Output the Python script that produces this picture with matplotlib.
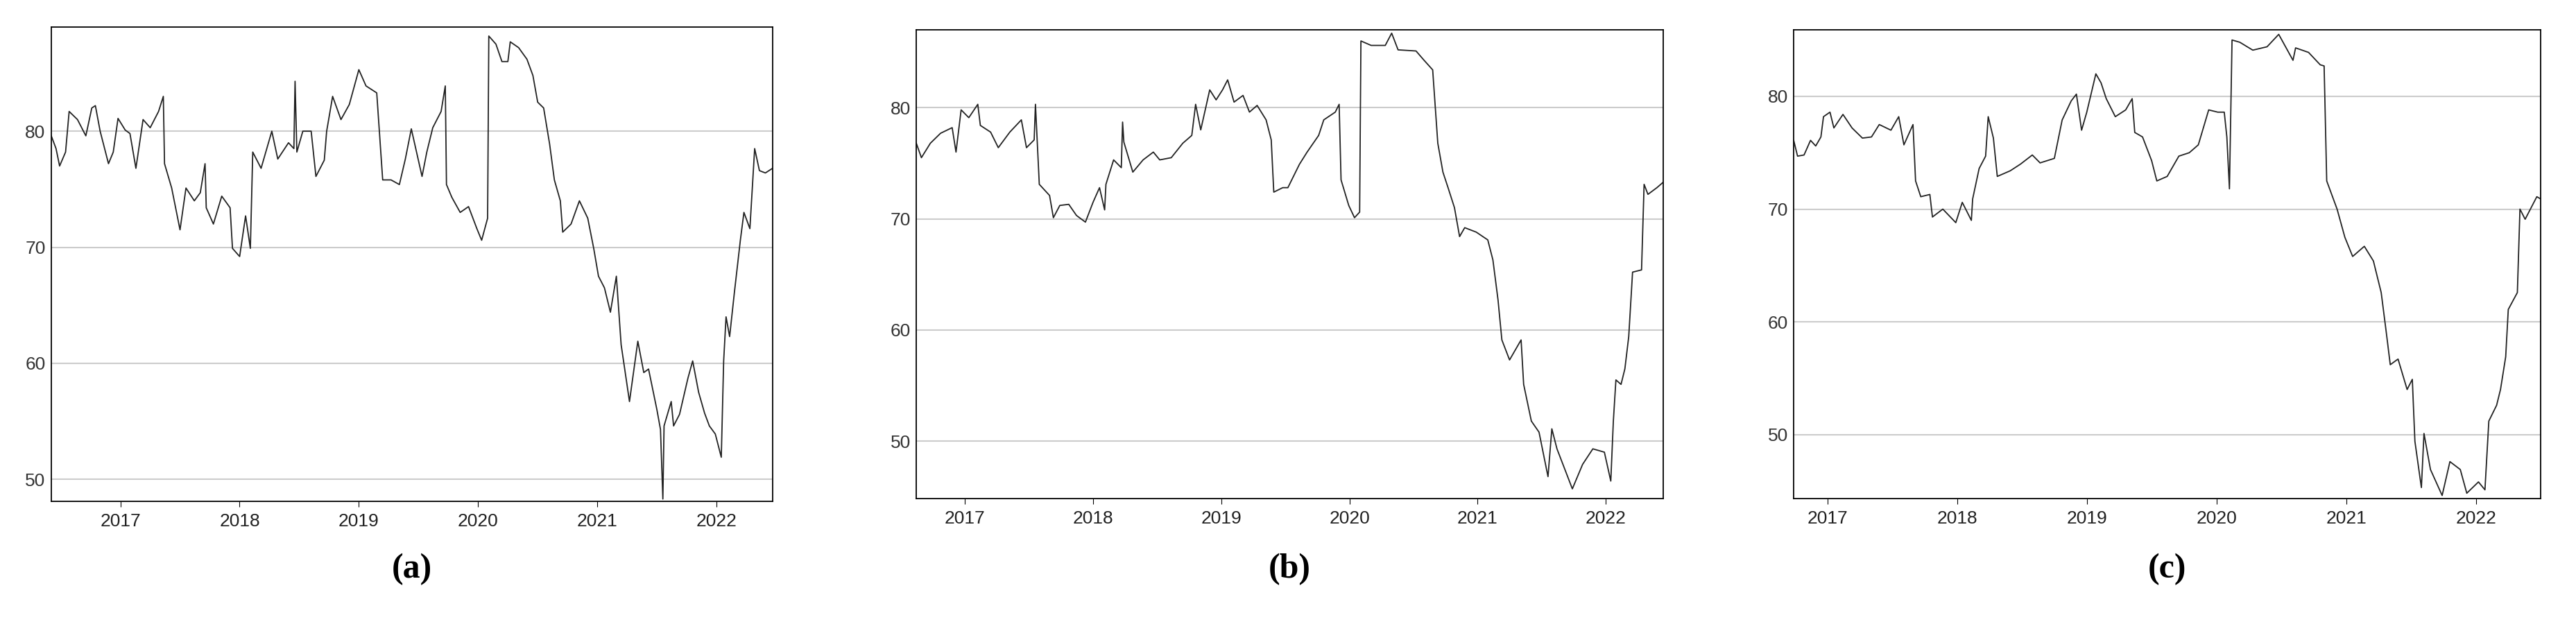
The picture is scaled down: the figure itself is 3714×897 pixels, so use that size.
import numpy as np
import matplotlib
matplotlib.use('Agg')
import matplotlib.pyplot as plt

# (decimal year, value)
yr_a = [2016.42, 2016.46, 2016.49, 2016.54, 2016.57, 2016.64, 2016.71, 2016.76, 2016.79, 2016.83, 2016.90, 2016.94, 2016.98,
        2017.04, 2017.08, 2017.13, 2017.19, 2017.25, 2017.32, 2017.36, 2017.37, 2017.43, 2017.50, 2017.55, 2017.62, 2017.67,
        2017.71, 2017.72, 2017.78, 2017.85, 2017.92, 2017.94, 2018.00, 2018.05, 2018.09, 2018.11, 2018.18, 2018.27, 2018.32,
        2018.41, 2018.455, 2018.465, 2018.48, 2018.53, 2018.60, 2018.64, 2018.71, 2018.73, 2018.78, 2018.85, 2018.92, 2019.00,
        2019.06, 2019.15, 2019.20, 2019.27, 2019.34, 2019.39, 2019.44, 2019.53, 2019.57, 2019.62, 2019.69, 2019.725, 2019.735,
        2019.78, 2019.85, 2019.92, 2019.99, 2020.03, 2020.08, 2020.09, 2020.15, 2020.20, 2020.25, 2020.27, 2020.34, 2020.41,
        2020.46, 2020.50, 2020.55, 2020.60, 2020.64, 2020.69, 2020.71, 2020.78, 2020.85, 2020.92, 2020.97, 2021.01, 2021.06,
        2021.11, 2021.16, 2021.20, 2021.27, 2021.34, 2021.39, 2021.43, 2021.50, 2021.53, 2021.55, 2021.56, 2021.62, 2021.64,
        2021.69, 2021.76, 2021.80, 2021.85, 2021.90, 2021.94, 2021.99, 2022.04, 2022.06, 2022.08, 2022.11, 2022.15, 2022.20,
        2022.23, 2022.28, 2022.32, 2022.36, 2022.41, 2022.47]
val_a = [79.6, 78.5, 77.0, 78.2, 81.7, 81.0, 79.6, 82.0, 82.2, 80.0, 77.2, 78.2, 81.1,
         80.1, 79.8, 76.8, 81.0, 80.3, 81.7, 83.0, 77.2, 75.1, 71.5, 75.1, 74.0, 74.7,
         77.2, 73.4, 72.0, 74.4, 73.4, 69.9, 69.2, 72.7, 69.9, 78.2, 76.8, 80.0, 77.6,
         79.0, 78.5, 84.3, 78.2, 80.0, 80.0, 76.1, 77.5, 80.0, 83.0, 81.0, 82.3, 85.3,
         83.9, 83.3, 75.8, 75.8, 75.4, 77.6, 80.2, 76.1, 78.2, 80.3, 81.7, 83.9, 75.4,
         74.3, 73.0, 73.5, 71.6, 70.6, 72.5, 88.2, 87.5, 86.0, 86.0, 87.7, 87.2, 86.2,
         84.8, 82.5, 82.0, 78.9, 75.8, 74.0, 71.3, 72.0, 74.0, 72.5, 69.9, 67.5, 66.5,
         64.4, 67.5, 61.6, 56.7, 61.9, 59.2, 59.5, 56.0, 54.3, 48.3, 54.6, 56.7, 54.6,
         55.6, 58.7, 60.2, 57.5, 55.7, 54.6, 53.9, 51.9, 60.2, 64.0, 62.3, 66.1, 70.6,
         73.0, 71.6, 78.5, 76.6, 76.4, 76.8]

yr_b = [2016.62, 2016.66, 2016.73, 2016.81, 2016.90, 2016.93, 2016.97, 2017.03, 2017.10, 2017.12, 2017.20, 2017.26, 2017.35,
        2017.44, 2017.48, 2017.54, 2017.55, 2017.58, 2017.66, 2017.69, 2017.74, 2017.81, 2017.87, 2017.94, 2018.00, 2018.05,
        2018.09, 2018.10, 2018.16, 2018.22, 2018.23, 2018.24, 2018.31, 2018.39, 2018.47, 2018.52, 2018.61, 2018.70, 2018.77,
        2018.80, 2018.84, 2018.91, 2018.96, 2019.01, 2019.05, 2019.10, 2019.17, 2019.22, 2019.28, 2019.35, 2019.39, 2019.41,
        2019.48, 2019.52, 2019.61, 2019.67, 2019.76, 2019.80, 2019.89, 2019.92, 2019.935, 2019.995, 2020.04, 2020.08, 2020.09,
        2020.17, 2020.28, 2020.33, 2020.38, 2020.52, 2020.58, 2020.65, 2020.69, 2020.73, 2020.77, 2020.82, 2020.86, 2020.90,
        2020.99, 2021.08, 2021.12, 2021.16, 2021.19, 2021.25, 2021.34, 2021.36, 2021.42, 2021.48, 2021.55, 2021.58, 2021.62,
        2021.68, 2021.74, 2021.82, 2021.90, 2021.99, 2022.04, 2022.06, 2022.08, 2022.12, 2022.15, 2022.18, 2022.21, 2022.28,
        2022.30, 2022.33, 2022.40, 2022.45]
val_b = [76.8, 75.5, 76.8, 77.7, 78.2, 76.0, 79.8, 79.1, 80.3, 78.4, 77.8, 76.4, 77.8,
         78.9, 76.4, 77.1, 80.3, 73.1, 72.1, 70.1, 71.2, 71.3, 70.3, 69.7, 71.5, 72.8,
         70.8, 73.1, 75.3, 74.6, 78.7, 76.9, 74.2, 75.3, 76.0, 75.3, 75.5, 76.8, 77.5,
         80.3, 78.0, 81.6, 80.7, 81.6, 82.5, 80.5, 81.1, 79.6, 80.2, 78.9, 77.1, 72.4,
         72.8, 72.8, 74.9, 76.0, 77.5, 78.9, 79.6, 80.3, 73.5, 71.2, 70.1, 70.6, 86.0,
         85.6, 85.6, 86.7, 85.2, 85.1, 84.3, 83.4, 76.8, 74.2, 72.8, 71.0, 68.4, 69.2,
         68.8, 68.1, 66.3, 62.7, 59.1, 57.3, 59.1, 55.1, 51.8, 50.8, 46.8, 51.1, 49.3,
         47.5, 45.7, 47.9, 49.3, 49.0, 46.4, 51.8, 55.5, 55.1, 56.5, 59.4, 65.2, 65.4,
         73.1, 72.2, 72.8, 73.3]

yr_c = [2016.74, 2016.77, 2016.82, 2016.87, 2016.91, 2016.95, 2016.97, 2017.02, 2017.05, 2017.12, 2017.19, 2017.27, 2017.34,
        2017.40, 2017.49, 2017.55, 2017.59, 2017.66, 2017.68, 2017.72, 2017.79, 2017.81, 2017.89, 2017.99, 2018.04, 2018.11,
        2018.12, 2018.17, 2018.22, 2018.24, 2018.28, 2018.31, 2018.41, 2018.49, 2018.58, 2018.64, 2018.75, 2018.81, 2018.88,
        2018.92, 2018.96, 2019.00, 2019.07, 2019.11, 2019.15, 2019.22, 2019.30, 2019.35, 2019.37, 2019.43, 2019.50, 2019.54,
        2019.62, 2019.71, 2019.79, 2019.86, 2019.94, 2020.01, 2020.06, 2020.08, 2020.10, 2020.12, 2020.18, 2020.28, 2020.39,
        2020.48, 2020.59, 2020.61, 2020.71, 2020.80, 2020.83, 2020.85, 2020.93, 2020.99, 2021.05, 2021.14, 2021.21, 2021.27,
        2021.31, 2021.34, 2021.40, 2021.47, 2021.51, 2021.53, 2021.58, 2021.60, 2021.65, 2021.74, 2021.80, 2021.88, 2021.93,
        2022.02, 2022.07, 2022.10, 2022.16, 2022.19, 2022.23, 2022.25, 2022.32, 2022.34, 2022.38, 2022.47, 2022.50]
val_c = [76.1, 74.7, 74.8, 76.1, 75.6, 76.4, 78.2, 78.6, 77.2, 78.4, 77.2, 76.3, 76.4,
         77.5, 77.0, 78.2, 75.7, 77.5, 72.5, 71.1, 71.3, 69.3, 70.0, 68.8, 70.6, 69.0,
         70.9, 73.6, 74.7, 78.2, 76.3, 72.9, 73.4, 74.0, 74.8, 74.1, 74.5, 77.9, 79.6,
         80.2, 77.0, 78.6, 82.0, 81.2, 79.8, 78.2, 78.8, 79.8, 76.8, 76.4, 74.3, 72.5,
         72.9, 74.7, 75.0, 75.7, 78.8, 78.6, 78.6, 76.4, 71.8, 85.0, 84.8, 84.1, 84.4,
         85.5, 83.2, 84.3, 83.9, 82.8, 82.7, 72.5, 70.0, 67.5, 65.8, 66.7, 65.4, 62.6,
         59.0, 56.2, 56.7, 54.0, 54.9, 49.4, 45.3, 50.1, 46.9, 44.6, 47.6, 46.9, 44.8,
         45.8, 45.1, 51.2, 52.6, 54.0, 56.9, 61.1, 62.6, 70.0, 69.1, 71.1, 70.9]

panels = [
    ('a', yr_a, val_a, [0.0199, 0.194, 0.280, 0.763], (2016.42, 2022.47), (48.1, 89.0)),
    ('b', yr_b, val_b, [0.3557, 0.198, 0.290, 0.754], (2016.62, 2022.45), (44.8, 87.0)),
    ('c', yr_c, val_c, [0.6963, 0.198, 0.290, 0.754], (2016.74, 2022.50), (44.3, 85.9)),
]

fig = plt.figure(figsize=(37.14, 8.97), dpi=100)
for name, x, y, pos, xl, yl in panels:
    ax = fig.add_axes(pos)
    ax.plot(x, y, color='#222222', lw=1.3)
    ax.set_xlim(*xl)
    ax.set_ylim(*yl)
    ax.set_xticks(range(2017, 2023))
    ax.set_yticks([50, 60, 70, 80])
    ax.grid(axis='y', color='#cccccc', lw=1.5)
    ax.set_axisbelow(True)
    ax.tick_params(axis='y', length=0, labelsize=19, labelcolor='#333333', pad=6)
    ax.tick_params(axis='x', length=6, labelsize=19, labelcolor='#222222', pad=6)
    for lab in ax.get_xticklabels() + ax.get_yticklabels():
        lab.set_family('Liberation Sans')
    for sp in ax.spines.values():
        sp.set_linewidth(1.3)
    fig.text(pos[0] + pos[2] / 2, 0.085, '(' + name + ')', ha='center', va='center',
             fontsize=36, fontweight='bold', family='Liberation Serif')

fig.savefig('out.png', dpi=100)
